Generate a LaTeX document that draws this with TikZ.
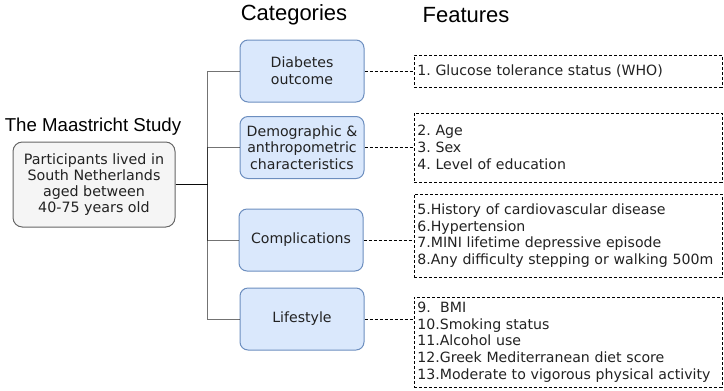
\documentclass[tikz,border=0pt]{standalone}
\usepackage{fontspec}
\setmainfont{DejaVu Sans}
\newfontfamily\headfont{Liberation Sans}
\definecolor{catfill}{HTML}{DAE8FC}
\definecolor{catline}{HTML}{6C8EBF}
\definecolor{partfill}{HTML}{F5F5F5}
\definecolor{partline}{HTML}{666666}
\definecolor{ink}{HTML}{222222}
\frenchspacing

\begin{document}
\begin{tikzpicture}[
  x=0.75pt, y=-0.75pt,
  every node/.style={font=\fontsize{10.6}{12.5}\selectfont, text=ink, inner sep=0pt},
  head/.style={font=\headfont\fontsize{16.5}{18}\selectfont, text=black},
  cat/.style={rectangle, rounded corners=6pt, draw=catline, fill=catfill, line width=0.75pt,
    minimum width=93pt, minimum height=46.5pt, align=center},
  part/.style={rectangle, rounded corners=7pt, draw=partline, fill=partfill, line width=0.75pt,
    minimum width=121.5pt, minimum height=63.75pt, align=center, font=\fontsize{10.7}{12}\selectfont},
  feat/.style={rectangle, draw, dash pattern=on 2.25pt off 1.5pt, line width=0.6pt, align=left,
    text width=226pt, inner xsep=2.5pt},
  tree/.style={draw=black, draw opacity=0.55, line width=0.75pt},
  link/.style={dash pattern=on 2.25pt off 1.5pt, line width=0.6pt}
]
\useasboundingbox (0,0) rectangle (724,390);
% headings
\node[head] (cats) at (294,15) {Categories};
\node[head] (feats) at (466,15) {Features};
\node[head, font=\headfont\fontsize{14}{16}\selectfont] (study) at (93,127) {The Maastricht Study};
% participants
\node[part] (part) at (94,184.5) {Participants lived in\\South Netherlands\\aged between\\40-75 years old};
\coordinate (fork) at (207,184.5);
% categories
\node[cat] (diab) at (302,71) {Diabetes\\outcome};
\node[cat] (demo) at (302,147.5) {Demographic \&\\anthropometric\\characteristics};
\node[cat] (comp) at (301,240) {Complications};
\node[cat] (life) at (302,319) {Lifestyle};
% features
\node[feat, minimum height=24pt] (f1) at (568,71) {1. Glucose tolerance status (WHO)};
\node[feat, minimum height=51.75pt] (f2) at (568,147.5) {2. Age\\3. Sex\\4. Level of education};
\node[feat, minimum height=62.25pt] (f3) at (568,235.5) {5.History of cardiovascular disease\\6.Hypertension\\7.MINI lifetime depressive episode\\8.Any difficulty stepping or walking 500m};
\node[feat, minimum height=67.5pt] (f4) at (568,342) {9.\ \ BMI\\10.Smoking status\\11.Alcohol use\\12.Greek Mediterranean diet score\\13.Moderate to vigorous physical activity};
% tree
\draw[tree] (part.east) -- (fork) |- (diab.west);
\draw[tree] (part.east) -- (fork) |- (demo.west);
\draw[tree] (part.east) -- (fork) |- (comp.west);
\draw[tree] (part.east) -- (fork) |- (life.west);
% links
\draw[link] (diab.east) -- (diab.east -| f1.west);
\draw[link] (demo.east) -- (demo.east -| f2.west);
\draw[link] (comp.east) -- (comp.east -| f3.west);
\draw[link] (life.east) -- (life.east -| f4.west);
\end{tikzpicture}
\end{document}
